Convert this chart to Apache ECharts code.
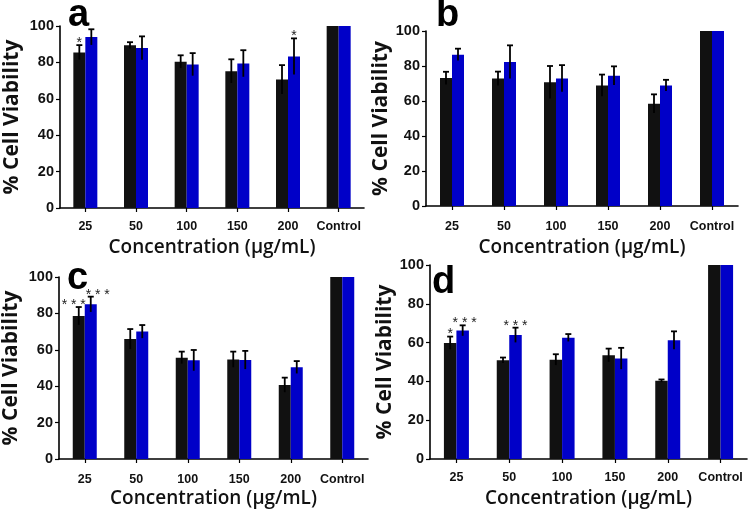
<!DOCTYPE html>
<html><head><meta charset="utf-8">
<script src="https://cdn.jsdelivr.net/npm/echarts@6/dist/echarts.min.js"></script>
<style>html,body{margin:0;padding:0;background:#fff}#c{width:749px;height:515px}</style>
</head><body><div id="c"></div>
<script>
// ---------- data ----------
const categories = ['25', '50', '100', '150', '200', 'Control'];
const yTickMin = 0, yTickMax = 100, yTickStep = 20;
const xTitle = 'Concentration (µg/mL)';
const yTitle = '% Cell Viability';
const panelLetters = ['a', 'b', 'c', 'd'];

const aBlack    = [85.5, 89.4, 80.4, 75.2, 70.6, 100];
const aBlackErr = [4.0, 1.7, 3.5, 6.5, 7.9, 0];
const aBlue     = [93.9, 87.9, 78.9, 79.4, 83.3, 100];
const aBlueErr  = [4.3, 6.4, 6.2, 7.3, 9.9, 0];

const bBlack    = [73.1, 72.8, 70.7, 68.9, 58.5, 100];
const bBlackErr = [3.6, 4.0, 9.3, 6.2, 5.3, 0];
const bBlue     = [86.5, 82.3, 72.9, 74.5, 68.9, 100];
const bBlueErr  = [3.4, 9.5, 7.6, 5.3, 3.2, 0];

const cBlack    = [78.6, 65.9, 55.7, 54.7, 40.7, 100];
const cBlackErr = [4.9, 5.5, 3.3, 4.3, 4.0, 0];
const cBlue     = [85.0, 70.0, 54.2, 54.4, 50.4, 100];
const cBlueErr  = [4.2, 3.6, 5.7, 5.0, 3.4, 0];

const dBlack    = [59.8, 50.9, 51.2, 53.5, 40.3, 100];
const dBlackErr = [3.3, 1.4, 2.8, 3.4, 0.7, 0];
const dBlue     = [66.2, 63.9, 62.5, 51.8, 61.2, 100];
const dBlueErr  = [2.7, 3.8, 1.9, 5.5, 4.6, 0];

// significance marks: [category index, series (0 black, 1 blue), text]
const aStars = [[0, 0, '*'], [4, 1, '*']];
const bStars = [];
const cStars = [[0, 0, '* * *'], [0, 1, '* * *']];
const dStars = [[0, 0, '*'], [0, 1, '* * *'], [1, 1, '* * *']];

// ---------- layout ----------
const BLACK = '#111111', BLUE = '#0000c8';
const panels = [
  {black: aBlack, blackErr: aBlackErr, blue: aBlue, blueErr: aBlueErr, stars: aStars, starDx: [0, 0],
   grid: {left: 60, top: 26, width: 304, height: 182}, barW: 12, yGap: 37, lblMargin: 12, xGap: 30, letterPos: [68, 19]},
  {black: bBlack, blackErr: bBlackErr, blue: bBlue, blueErr: bBlueErr, stars: bStars, starDx: [],
   grid: {left: 426, top: 31, width: 312, height: 175}, barW: 12, yGap: 33, lblMargin: 14, xGap: 32, letterPos: [436, 19]},
  {black: cBlack, blackErr: cBlackErr, blue: cBlue, blueErr: cBlueErr, stars: cStars, starDx: [-5, 7],
   grid: {left: 59, top: 277, width: 309, height: 182}, barW: 12, yGap: 37, lblMargin: 14, xGap: 30, letterPos: [67, 282]},
  {black: dBlack, blackErr: dBlackErr, blue: dBlue, blueErr: dBlueErr, stars: dStars, starDx: [0, 2, 0],
   grid: {left: 430, top: 265, width: 317, height: 194}, barW: 12.5, yGap: 31, lblMargin: 12, xGap: 30, letterPos: [432, 286]}
];

const grids = [], xAxes = [], yAxes = [], series = [], graphics = [];
const axisStyle = {lineStyle: {color: '#000', width: 1.6}};

panels.forEach((p, i) => {
  grids.push(Object.assign({containLabel: false}, p.grid));
  xAxes.push({
    type: 'category', gridIndex: i, data: categories,
    axisLine: axisStyle,
    axisTick: {show: true, alignWithLabel: true, length: 4, lineStyle: {color: '#000', width: 1.2}},
    axisLabel: {color: '#111', fontFamily: 'Liberation Sans', fontWeight: 'bold', fontSize: 12.5, margin: p.lblMargin, interval: 0},
    name: xTitle, nameLocation: 'middle', nameGap: p.xGap,
    nameTextStyle: {color: '#111', fontFamily: 'Open Sans', fontWeight: 600, fontSize: 19}
  });
  yAxes.push({
    type: 'value', gridIndex: i, min: yTickMin, max: yTickMax, interval: yTickStep,
    axisLine: Object.assign({show: true}, axisStyle),
    axisTick: {show: true, length: 4, lineStyle: {color: '#000', width: 1.2}},
    splitLine: {show: false},
    axisLabel: {color: '#111', fontFamily: 'Liberation Sans', fontWeight: 'bold', fontSize: 14.5, margin: 6},
    name: yTitle, nameLocation: 'middle', nameGap: p.yGap, nameRotate: 90,
    nameTextStyle: {color: '#111', fontFamily: 'Open Sans', fontWeight: 'bold', fontSize: 21}
  });
  series.push({
    type: 'bar', xAxisIndex: i, yAxisIndex: i, data: p.black, barWidth: p.barW, barGap: '0%',
    itemStyle: {color: BLACK}, silent: true, animation: false
  });
  series.push({
    type: 'bar', xAxisIndex: i, yAxisIndex: i, data: p.blue, barWidth: p.barW, barGap: '0%',
    itemStyle: {color: BLUE}, silent: true, animation: false
  });
  // error bars
  const errData = [];
  p.black.forEach((v, k) => { if (p.blackErr[k] > 0) errData.push([k, v, p.blackErr[k], 0]); });
  p.blue.forEach((v, k) => { if (p.blueErr[k] > 0) errData.push([k, v, p.blueErr[k], 1]); });
  const bw = p.barW;
  series.push({
    type: 'custom', xAxisIndex: i, yAxisIndex: i, data: errData, silent: true, animation: false, z: 5,
    encode: {x: 0, y: 1},
    renderItem: (params, api) => {
      const cat = api.value(0), v = api.value(1), e = api.value(2), s = api.value(3);
      const off = s === 0 ? -bw / 2 : bw / 2;
      const t = api.coord([cat, v + e]), b = api.coord([cat, v - e]);
      const x = t[0] + off;
      return {type: 'group', children: [
        {type: 'line', shape: {x1: x, y1: t[1], x2: x, y2: b[1]}, style: {stroke: '#000', lineWidth: 1.8}},
        {type: 'line', shape: {x1: x - 3, y1: t[1], x2: x + 3, y2: t[1]}, style: {stroke: '#000', lineWidth: 1.8}}
      ]};
    }
  });
  // significance marks
  const starData = p.stars.map((st, j) => {
    const k = st[0], s = st[1];
    const top = s === 0 ? p.black[k] + p.blackErr[k] : p.blue[k] + p.blueErr[k];
    return [k, top, s, st[2], p.starDx[j] || 0];
  });
  series.push({
    type: 'custom', xAxisIndex: i, yAxisIndex: i, data: starData, silent: true, animation: false, z: 6,
    encode: {x: 0, y: 1},
    renderItem: (params, api) => {
      const d = starData[params.dataIndex];
      const off = (d[2] === 0 ? -bw / 2 : bw / 2) + d[4];
      const pt = api.coord([d[0], d[1]]);
      return {type: 'text', x: pt[0] + off, y: pt[1] + 5,
        style: {text: d[3], fill: '#222', font: '14px "Liberation Sans"', align: 'center', verticalAlign: 'bottom'}};
    }
  });
  graphics.push({type: 'text', left: p.letterPos[0], top: p.letterPos[1] - 22,
    style: {text: panelLetters[i], fill: '#000', font: 'bold 38px "Liberation Sans"'}});
});

const chart = echarts.init(document.getElementById('c'), null, {renderer: 'canvas'});
chart.setOption({
  animation: false, backgroundColor: '#fff',
  grid: grids, xAxis: xAxes, yAxis: yAxes, series: series, graphic: graphics
});
</script></body></html>
